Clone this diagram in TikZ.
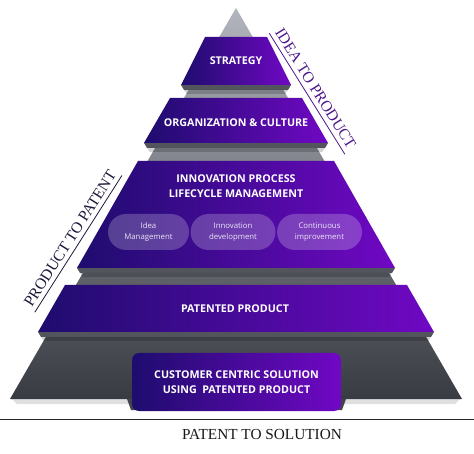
\documentclass[tikz,border=0pt]{standalone}
\usepackage{fontspec}
\setmainfont{Open Sans}
\newfontfamily\serifl{Liberation Serif}
\usetikzlibrary{calc}
\definecolor{pleft}{RGB}{30,12,110}
\definecolor{pright}{RGB}{112,8,196}
\definecolor{gtop}{RGB}{178,181,189}
\definecolor{gbot}{RGB}{56,59,66}
\definecolor{edgec}{RGB}{82,85,92}
\definecolor{ideac}{RGB}{78,26,140}
\definecolor{prodc}{RGB}{28,26,58}
\definecolor{pilltext}{RGB}{236,228,248}
\newcommand\pband[4]{%
  \fill[edgec] ({236-#4},#3) -- ({236+#4},#3) -- ({236+#4-3},#3+5) -- ({236-#4+3},#3+5) -- cycle;
  \fill[black,opacity=0.18] ({236-#4+3},#3+5) -- ({236+#4-3},#3+5) -- ({236+#4-6},#3+9) -- ({236-#4+6},#3+9) -- cycle;
  \shade[left color=pleft,right color=pright] ({236-#2},#1) -- ({236+#2},#1) -- ({236+#4},#3) -- ({236-#4},#3) -- cycle;}
\begin{document}
\begin{tikzpicture}[x=1pt,y=-1pt,
  bandtext/.style={text=white,font=\bfseries\fontsize{10.7}{14.5}\selectfont,align=center,inner sep=0pt},
  pill/.style={fill=white,fill opacity=0.22,text opacity=1,text=pilltext,rounded corners=18pt,
    minimum height=36pt,align=center,inner sep=0pt,font=\fontsize{7.8}{10.7}\selectfont},
  sidelabel/.style={font=\serifl\fontsize{15.6}{18}\selectfont,inner xsep=2pt,inner ysep=4.5pt}]
\useasboundingbox (0,0) rectangle (474,454);
\fill[white] (0,0) rectangle (474,454);
% grey pyramid
\fill[black,opacity=0.12] (12,399) -- (460,399) -- (455,404) -- (17,404) -- cycle;
\shade[top color=gtop,bottom color=gbot] (236,8) -- (462,399) -- (10,399) -- cycle;
% bands
\pband{37}{31}{85}{55}
\pband{98}{66}{143}{92}
\pband{161}{98}{268}{159}
\pband{285}{171}{332}{198}
% piece under the bottom box
\fill[edgec!80!black] (127,399) -- (346,399) -- (342,410) -- (131,410) -- cycle;
% band texts
\node[bandtext] (strat) at (236,61) {STRATEGY};
\node[bandtext] (org) at (236,123) {ORGANIZATION \& CULTURE};
\node[bandtext] (inno) at (236,186) {INNOVATION PROCESS\\LIFECYCLE MANAGEMENT};
\node[pill,minimum width=81pt] (ideam) at (148.5,232) {Idea\\Management};
\node[pill,minimum width=85pt] (innod) at (233,232) {Innovation\\development};
\node[pill,minimum width=85pt] (conti) at (319.5,232) {Continuous\\improvement};
\node[bandtext] (pat) at (235,309) {PATENTED PRODUCT};
\node[bandtext,left color=pleft,right color=pright,rounded corners=7pt,
  minimum width=209pt,minimum height=58pt] (cust) at (236.5,382)
  {CUSTOMER CENTRIC SOLUTION\\USING\ \ PATENTED PRODUCT};
% side labels
\node[sidelabel,text=ideac,rotate=-58] (i2p) at (315.5,88.5) {IDEA TO PRODUCT};
\draw[ideac,line width=0.8pt] (i2p.south west) -- (i2p.south east);
\node[sidelabel,text=prodc,rotate=57.5] (p2p) at (70,238.5) {PRODUCT TO PATENT};
\draw[prodc,line width=0.8pt] (p2p.south west) -- (p2p.south east);
% bottom rule and label
\coordinate (rl) at (0,419);
\coordinate (rr) at (474,419);
\draw[line width=0.9pt,black!85] (rl) -- (rr);
\node[font=\serifl\fontsize{15.3}{18}\selectfont,text=black!90] (pts) at (262,435) {PATENT TO SOLUTION};
\end{tikzpicture}
\end{document}
